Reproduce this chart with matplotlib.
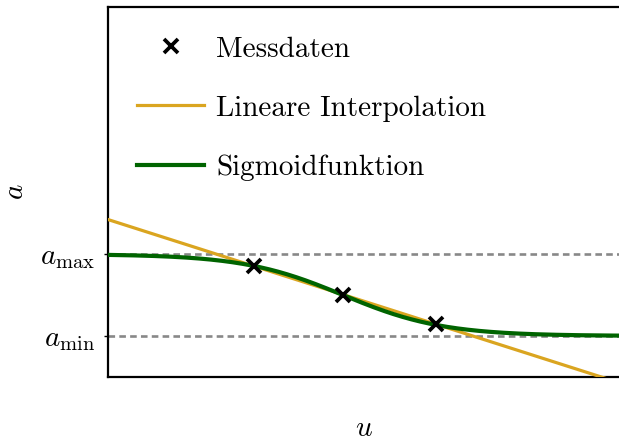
import numpy as np
import matplotlib
matplotlib.use("Agg")
import matplotlib.pyplot as plt

plt.rcParams['font.family'] = 'serif'
plt.rcParams['font.serif'] = ['cmr10']
plt.rcParams['mathtext.fontset'] = 'cm'
plt.rcParams['axes.unicode_minus'] = False

# Messdaten
u_mess = [1.46, 2.35, 3.28]
a_mess = [0.300, 0.222, 0.143]

# Grenzen
a_max = 0.332
a_min = 0.111

# Sigmoid-Parameter
u_mitte = 2.35
steigung = 2.0

u_lim = (0.0, 5.11)
a_lim = (0.0, 1.0)

fig = plt.figure(figsize=(6.19, 4.45), dpi=100)
ax = fig.add_axes([0.1745, 0.1528, 0.8255, 0.8315])

u = np.linspace(u_lim[0], u_lim[1], 400)

# lineare Interpolation durch die Messpunkte
p = np.polyfit(u_mess, a_mess, 1)
ax.plot(u, np.polyval(p, u), color='#DAA520', lw=2.3, label='Lineare Interpolation', zorder=3)

ax.axhline(a_max, color='#888888', lw=1.9, dashes=(2.5, 1.6), zorder=2)
ax.axhline(a_min, color='#888888', lw=1.9, dashes=(2.5, 1.6), zorder=2)

sig = a_min + (a_max - a_min) / (1 + np.exp(steigung * (u - u_mitte)))
ax.plot(u, sig, color='#006400', lw=3.0, label='Sigmoidfunktion', zorder=4)

ax.plot(u_mess, a_mess, 'x', color='black', ms=9.5, mew=2.7, label='Messdaten', zorder=5)

ax.set_xlim(u_lim)
ax.set_ylim(a_lim)
ax.set_xticks([])
ax.set_yticks([a_max, a_min])
ax.set_yticklabels([r'$a_\mathrm{max}$', r'$a_\mathrm{min}$'], fontsize=21)
ax.tick_params(axis='y', length=3, width=1, pad=6)
ax.set_xlabel(r'$u$', fontsize=21, labelpad=28)
ax.set_ylabel(r'$a$', fontsize=21, labelpad=8)
for s in ['left', 'top', 'bottom']:
    ax.spines[s].set_linewidth(1.6)
ax.spines['right'].set_visible(False)

h, l = ax.get_legend_handles_labels()
order = [2, 0, 1]
ax.legend([h[i] for i in order], [l[i] for i in order], loc='upper left', frameon=False,
          fontsize=21, labelspacing=1.12, handlelength=2.3, handletextpad=0.4,
          borderaxespad=0.6)

fig.savefig('out.png', dpi=100)
